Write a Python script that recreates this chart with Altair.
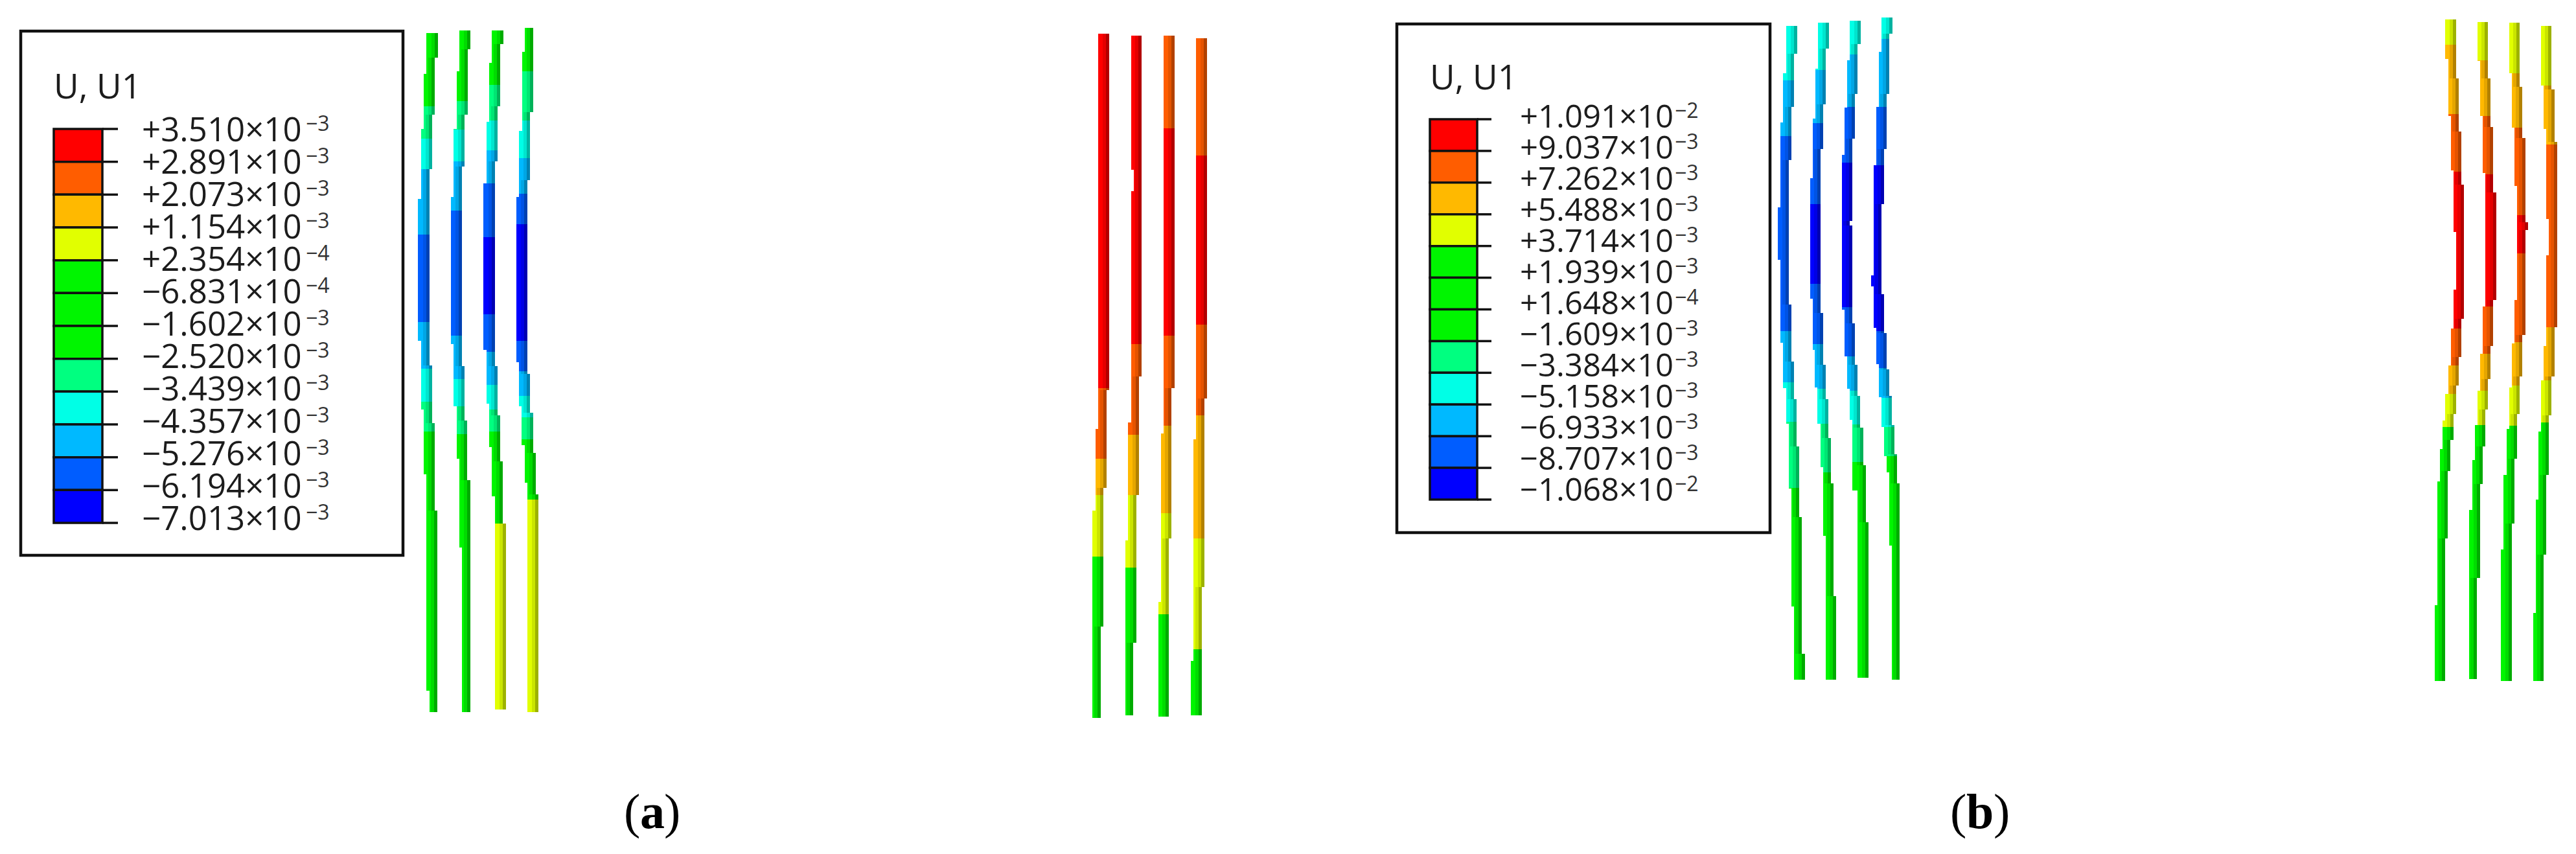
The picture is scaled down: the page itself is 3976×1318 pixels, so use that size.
import altair as alt
import pandas as pd

K = 1568  # second crop of a tall strip continues the first one

# ---------- legend values ----------
LEVEL_NAMES = ["red", "orange", "amber", "yellow", "green", "green2", "green3",
               "spring", "cyan", "sky", "azure", "blue"]
LEVEL_COLORS = ["#ff0000", "#ff5d00", "#ffb900", "#e1ff00", "#00f500", "#00f500", "#00f500",
                "#00ff80", "#00ffe6", "#00b9ff", "#005dff", "#0000ff"]
TITLE = "U, U1"
MANT_A = ["+3.510", "+2.891", "+2.073", "+1.154", "+2.354", "\u22126.831", "\u22121.602",
          "\u22122.520", "\u22123.439", "\u22124.357", "\u22125.276", "\u22126.194", "\u22127.013"]
EXP_A = ["\u22123", "\u22123", "\u22123", "\u22123", "\u22124", "\u22124", "\u22123",
         "\u22123", "\u22123", "\u22123", "\u22123", "\u22123", "\u22123"]
MANT_B = ["+1.091", "+9.037", "+7.262", "+5.488", "+3.714", "+1.939", "+1.648",
          "\u22121.609", "\u22123.384", "\u22125.158", "\u22126.933", "\u22128.707", "\u22121.068"]
EXP_B = ["\u22122", "\u22123", "\u22123", "\u22123", "\u22123", "\u22123", "\u22124",
         "\u22123", "\u22123", "\u22123", "\u22123", "\u22123", "\u22122"]

# ---------- strips: (start, edge) for the left edge, right edge, and (start, level) bands ----------
G = "green"
A1 = dict(left=[(60,85),(245,72),(490,59),(805,46),(1440,59),(K+180,72),(K+470,85),(K+1440,98)],
          right=[(60,137),(170,124),(428,111),(672,98),(1552,111),(K+242,124),(K+632,136)],
          bands=[(60,G),(390,"spring"),(535,"cyan"),(672,"sky"),(965,"azure"),(1355,"sky"),(1566,"cyan"),(K+145,"spring"),(K+278,G)],
          end=K+1535)
A2 = dict(left=[(48,237),(232,224),(490,210),(795,198),(1455,211),(K+165,224),(K+400,237),(K+800,250)],
          right=[(48,288),(135,275),(428,262),(660,250),(1555,262),(K+230,274),(K+498,287)],
          bands=[(48,G),(365,"spring"),(495,"cyan"),(635,"sky"),(857,"azure"),(1418,"sky"),(K+45,"cyan"),(K+165,"spring"),(K+290,G)],
          end=K+1535)
A3 = dict(left=[(48,388),(195,375),(460,362),(735,349),(1480,362),(K+155,375),(K+350,388),(K+570,401)],
          right=[(48,440),(110,427),(390,414),(635,401),(1555,413),(K+205,426),(K+412,438),(K+692,452)],
          bands=[(48,G),(292,"spring"),(452,"cyan"),(587,"sky"),(735,"azure"),(975,"blue"),(1320,"azure"),(1490,"sky"),(K+70,"cyan"),(K+180,"spring"),(K+280,G),(K+692,"yellow")],
          end=K+1525)
A4 = dict(left=[(38,540),(145,527),(500,514),(795,501),(1535,514),(K+165,526),(K+340,539),(K+508,552)],
          right=[(38,578),(415,565),(720,552),(K+20,565),(K+195,578),(K+375,590),(K+560,603)],
          bands=[(38,G),(232,"spring"),(452,"cyan"),(622,"sky"),(780,"azure"),(917,"blue"),(1440,"azure"),(K+10,"sky"),(K+118,"cyan"),(K+215,"spring"),(K+315,G),(K+583,"yellow")],
          end=K+1535)

R1 = dict(left=[(45,165),(915,152),(1095,139)], right=[(45,215),(830,203),(1045,190),(1350,177)],
          bands=[(45,"red"),(825,"orange"),(980,"amber"),(1060,"yellow"),(1195,G)], end=1550)
R2 = dict(left=[(50,317),(345,330),(392,317),(900,304),(1160,291)], right=[(50,367),(800,354),(1060,341),(1385,328)],
          bands=[(50,"red"),(728,"orange"),(927,"amber"),(1060,"yellow"),(1220,G)], end=1545)
R3 = dict(left=[(50,467),(925,455),(1295,443)], right=[(50,518),(825,505),(1155,492)],
          bands=[(50,"orange"),(253,"red"),(710,"orange"),(908,"amber"),(1100,"yellow"),(1322,G)], end=1548)
R4 = dict(left=[(55,619),(938,606),(1425,594)], right=[(55,670),(848,657),(1262,644)],
          bands=[(55,"orange"),(313,"red"),(686,"orange"),(885,"amber"),(1155,"yellow"),(1400,G)], end=1545)

B1 = dict(left=[(60,80),(280,67),(510,55),(905,43),(1148,55),(1535,67),(K+178,80),(K+345,92),(K+645,105),(K+1195,117)],
          right=[(60,131),(190,118),(437,105),(685,92),(1358,105),(K+55,118),(K+228,130),(K+448,142),(K+778,154),(K+1415,167)],
          bands=[(60,"cyan"),(315,"sky"),(572,"azure"),(1480,"sky"),(K+152,"cyan"),(K+335,"spring"),(K+642,G)],
          end=K+1535)
B2 = dict(left=[(45,227),(260,215),(490,203),(770,191),(1330,204),(K+0,214),(K+175,226),(K+345,239),(K+545,251),(K+865,264)],
          right=[(45,278),(165,265),(425,252),(632,240),(1395,252),(K+70,265),(K+230,277),(K+410,289),(K+620,301),(K+1145,313)],
          bands=[(45,"cyan"),(265,"sky"),(512,"azure"),(890,"blue"),(1260,"azure"),(1540,"sky"),(K+180,"cyan"),(K+345,"spring"),(K+570,G)],
          end=K+1535)
B3 = dict(left=[(35,374),(220,362),(440,350),(660,338),(1380,350),(K+30,362),(K+180,374),(K+325,387),(K+655,411)],
          right=[(35,425),(145,412),(378,400),(585,388),(968,375),(990,388),(1445,400),(K+68,412),(K+215,424),(K+362,437),(K+535,449),(K+803,461)],
          bands=[(35,"cyan"),(192,"sky"),(438,"azure"),(695,"blue"),(1370,"azure"),(K+30,"sky"),(K+190,"cyan"),(K+348,"spring"),(K+520,G)],
          end=K+1525)
B4 = dict(left=[(22,522),(180,510),(437,498),(708,486),(1222,473),(1272,486),(1465,498),(K+65,509),(K+220,521),(K+360,533),(K+495,546),(K+570,558),(K+910,570)],
          right=[(22,572),(95,559),(378,546),(632,534),(890,522),(1308,534),(1490,547),(K+90,559),(K+215,571),(K+350,583),(K+485,595),(K+620,607)],
          bands=[(22,"cyan"),(120,"sky"),(438,"azure"),(708,"blue"),(1480,"azure"),(K+85,"sky"),(K+222,"cyan"),(K+358,"spring"),(K+495,G)],
          end=K+1535)

C1 = dict(left=[(15,163),(105,176),(235,188),(360,200),(500,213),(632,200),(720,188),(805,176),(870,163),(930,151),(995,139),(1070,126),(1352,114)],
          right=[(15,213),(150,226),(270,238),(392,250),(698,238),(785,226),(850,213),(915,200),(975,187),(1045,175),(1200,163)],
          bands=[(15,"yellow"),(72,"amber"),(230,"orange"),(362,"red"),(720,"orange"),(805,"amber"),(870,"yellow"),(945,G)], end=1525)
C2 = dict(left=[(20,311),(110,323),(235,336),(365,348),(670,336),(778,323),(862,311),(940,299),(1020,287),(1135,274)],
          right=[(20,360),(150,373),(260,385),(410,398),(655,385),(760,373),(835,360),(905,348),(990,335),(1075,323),(1290,310)],
          bands=[(20,"yellow"),(108,"amber"),(235,"orange"),(368,"red"),(670,"orange"),(778,"amber"),(862,"yellow"),(940,G)], end=1520)
C3 = dict(left=[(22,458),(138,470),(262,483),(395,495),(655,483),(755,470),(855,458),(950,446),(1055,433),(1225,420)],
          right=[(22,508),(168,520),(285,533),(478,546),(495,533),(735,520),(830,508),(915,495),(1018,483),(1165,470)],
          bands=[(22,"yellow"),(138,"amber"),(262,"orange"),(462,"red"),(548,"orange"),(752,"amber"),(850,"yellow"),(942,G)], end=1525)
C4 = dict(left=[(30,605),(165,617),(265,630),(470,642),(553,630),(760,617),(838,605),(955,593),(1110,581),(1370,569)],
          right=[(30,655),(175,668),(295,680),(717,668),(830,655),(918,642),(1055,630),(1237,617)],
          bands=[(30,"yellow"),(165,"amber"),(300,"orange"),(717,"amber"),(838,"yellow"),(935,G)], end=1525)

# read-off units of each strip group -> picture units: (x origin, x per px, y origin, y per px)
GROUPS = [
    ([A1, A2, A3, A4], (630, 3.0, 30, 2.904)),
    ([R1, R2, R3, R4], (1640, 3.0, 20, 1.425)),
    ([B1, B2, B3, B4], (2730, 3.0, 20, 3.015)),
    ([C1, C2, C3, C4], (3720, 3.0, 20, 1.479)),
]


def value_at(pairs, y):
    cur = pairs[0][1]
    for start, v in pairs:
        if start <= y:
            cur = v
    return cur


rows = []
for strips, (x0, sx, y0, sy) in GROUPS:
    for s in strips:
        stops = sorted({p[0] for key in ("left", "right", "bands") for p in s[key]} | {s["end"]})
        stops = [v for v in stops if v >= s["bands"][0][0] and v <= s["end"]]
        for a, b in zip(stops[:-1], stops[1:]):
            xl = round(x0 + value_at(s["left"], a) / sx)
            xr = round(x0 + value_at(s["right"], a) / sx)
            rows.append(dict(x=xl, x2=xr, y=round(y0 + a / sy), y2=round(y0 + b / sy),
                             level=value_at(s["bands"], a),
                             m=xr - 10, d=xr - 5))
strips_df = pd.DataFrame(rows)
strips_df = strips_df[strips_df.y2 > strips_df.y]

sx_ = alt.Scale(domain=[8, 3968], nice=False, zero=False)
sy_ = alt.Scale(domain=[1310, 8], nice=False, zero=False)
X = lambda f: alt.X(f, type="quantitative", scale=sx_, axis=None)
Y = lambda f: alt.Y(f, type="quantitative", scale=sy_, axis=None)
FILL = alt.Color("level:N", scale=alt.Scale(domain=LEVEL_NAMES, range=LEVEL_COLORS), legend=None)

layers = []

# strip bodies and the two darker faces of each tube
layers.append(alt.Chart(strips_df).mark_rect().encode(x=X("x"), x2="x2", y=Y("y"), y2="y2", color=FILL))
layers.append(alt.Chart(strips_df).mark_rect(color="black", opacity=0.10).encode(x=X("m"), x2="d", y=Y("y"), y2="y2"))
layers.append(alt.Chart(strips_df).mark_rect(color="black", opacity=0.30).encode(x=X("d"), x2="x2", y=Y("y"), y2="y2"))

# legends: (box, bar, ticks, text)
LEGENDS = [
    dict(box=(32, 48, 622, 857), bar=(83, 158, 182), top=199, bottom=807, tx=219, ex=472, base=218, step=50.0,
         title=(83, 152), mant=MANT_A, exps=EXP_A, size=51, esize=32, up=16),
    dict(box=(2156, 37, 2732, 822), bar=(2207, 2280, 2302), top=184, bottom=771, tx=2346, ex=2585, base=197, step=48.0,
         title=(2207, 138), mant=MANT_B, exps=EXP_B, size=49, esize=32, up=15),
]
for L in LEGENDS:
    x0, y0, x1, y1 = L["box"]
    box = pd.DataFrame([dict(x=x0, x2=x1, y=y0, y2=y1)])
    layers.append(alt.Chart(box).mark_rect(fill="white", stroke="#111111", strokeWidth=4.5)
                  .encode(x=X("x"), x2="x2", y=Y("y"), y2="y2"))
    n = len(L["mant"])
    dy = (L["bottom"] - L["top"]) / (n - 1)
    cells = pd.DataFrame([dict(x=L["bar"][0], x2=L["bar"][1], y=L["top"] + i * dy, y2=L["top"] + (i + 1) * dy,
                               level=LEVEL_NAMES[i]) for i in range(n - 1)])
    layers.append(alt.Chart(cells).mark_rect(stroke="#111111", strokeWidth=3.5)
                  .encode(x=X("x"), x2="x2", y=Y("y"), y2="y2", color=FILL))
    ticks = pd.DataFrame([dict(x=L["bar"][1], x2=L["bar"][2], y=L["top"] + i * dy) for i in range(n)])
    layers.append(alt.Chart(ticks).mark_rule(color="#111111", strokeWidth=3.5)
                  .encode(x=X("x"), x2="x2", y=Y("y")))
    labels = pd.DataFrame([dict(x=L["tx"], y=L["base"] + i * L["step"], t=m + "\u00d710")
                           for i, m in enumerate(L["mant"])])
    layers.append(alt.Chart(labels).mark_text(align="left", baseline="alphabetic", font="Open Sans",
                                              fontSize=L["size"], color="#1c1c1c")
                  .encode(x=X("x"), y=Y("y"), text="t:N"))
    exps = pd.DataFrame([dict(x=L["ex"], y=L["base"] + i * L["step"] - L["up"], t=e)
                         for i, e in enumerate(L["exps"])])
    layers.append(alt.Chart(exps).mark_text(align="left", baseline="alphabetic", font="Open Sans",
                                            fontSize=L["esize"], color="#333333")
                  .encode(x=X("x"), y=Y("y"), text="t:N"))
    title = pd.DataFrame([dict(x=L["title"][0], y=L["title"][1], t=TITLE)])
    layers.append(alt.Chart(title).mark_text(align="left", baseline="alphabetic", font="Open Sans",
                                             fontSize=53, color="#1c1c1c")
                  .encode(x=X("x"), y=Y("y"), text="t:N"))

# captions
CAPTIONS = [("(", "normal", 963), ("a", "bold", 988), (")", "normal", 1025),
            ("(", "normal", 3010), ("b", "bold", 3035), (")", "normal", 3077)]
cap = pd.DataFrame([dict(x=x, y=1278, t=t, w=w) for t, w, x in CAPTIONS])
for w in ("normal", "bold"):
    layers.append(alt.Chart(cap[cap.w == w]).mark_text(align="left", baseline="alphabetic", font="Liberation Serif",
                                                       fontSize=76, fontWeight=w, color="black")
                  .encode(x=X("x"), y=Y("y"), text="t:N"))

chart = (alt.layer(*layers)
         .properties(width=3960, height=1302, padding=0, autosize="none", background="white")
         .configure_view(stroke=None))
chart.save("out.html", embed_options={"renderer": "svg", "actions": False})
